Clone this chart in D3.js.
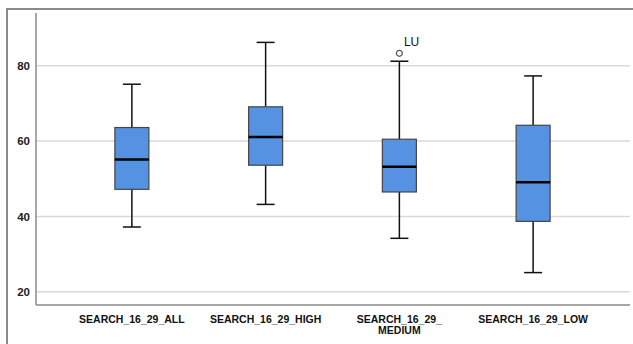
<!DOCTYPE html>
<html>
<head>
<meta charset="utf-8">
<script src="https://cdn.jsdelivr.net/npm/d3@7"></script>
<style>
  body { margin: 0; background: #fff; }
  svg { display: block; font-family: "Liberation Sans", Arial, sans-serif; }
</style>
</head>
<body>
<svg id="chart" width="633" height="344"></svg>
<script>
// variables on the x axis (second line used for wrapped labels)
const categories = ["SEARCH_16_29_ALL", "SEARCH_16_29_HIGH", "SEARCH_16_29_MEDIUM", "SEARCH_16_29_LOW"];
const labelLines = [["SEARCH_16_29_ALL"], ["SEARCH_16_29_HIGH"], ["SEARCH_16_29_", "MEDIUM"], ["SEARCH_16_29_LOW"]];

// box statistics
const whiskerLow = [37.2, 43.2, 34.2, 25.1];
const q1 = [47.2, 53.6, 46.5, 38.7];
const median = [55.1, 61.1, 53.2, 49.1];
const q3 = [63.6, 69.1, 60.5, 64.2];
const whiskerHigh = [75.1, 86.2, 81.2, 77.3];

// outliers
const outliers = [{ cat: "SEARCH_16_29_MEDIUM", value: 83.3, label: "LU" }];

const yTicks = [20, 40, 60, 80];

const svg = d3.select("#chart");

const plotLeft = 36, plotRight = 630, plotTop = 13, plotBottom = 305;

const x = d3.scaleBand()
    .domain(categories)
    .range([65, 600]);

const y = d3.scaleLinear()
    .domain([16.5, 94])
    .range([plotBottom, plotTop]);

// outer frame
svg.append("rect")
    .attr("x", 7).attr("y", 9)
    .attr("width", 640).attr("height", 350)
    .attr("fill", "none")
    .attr("stroke", "#8a8a8a")
    .attr("stroke-width", 2);

// gridlines
svg.append("g")
    .selectAll("line")
    .data(yTicks)
    .join("line")
    .attr("x1", plotLeft).attr("x2", plotRight)
    .attr("y1", d => y(d)).attr("y2", d => y(d))
    .attr("stroke", "#d9d9d9")
    .attr("stroke-width", 1.5);

// y axis
const yAxis = d3.axisLeft(y).tickValues(yTicks).tickSize(0).tickPadding(6);
const yg = svg.append("g")
    .attr("transform", `translate(${plotLeft},0)`)
    .call(yAxis);
yg.select(".domain").remove();
yg.selectAll("text")
    .attr("font-size", 11.5)
    .attr("font-weight", "bold")
    .attr("fill", "#222")
    .attr("font-family", "'Liberation Sans', Arial, sans-serif");

// axis lines
svg.append("line")
    .attr("x1", plotLeft).attr("x2", plotLeft)
    .attr("y1", plotTop).attr("y2", plotBottom)
    .attr("stroke", "#8a8a8a").attr("stroke-width", 1.5);
svg.append("line")
    .attr("x1", plotLeft).attr("x2", plotRight)
    .attr("y1", plotBottom).attr("y2", plotBottom)
    .attr("stroke", "#8a8a8a").attr("stroke-width", 1.5);

// x labels
const xl = svg.append("g")
    .selectAll("text")
    .data(categories)
    .join("text")
    .attr("x", d => x(d) + x.bandwidth() / 2)
    .attr("y", 323)
    .attr("text-anchor", "middle")
    .attr("font-size", 10.5)
    .attr("font-weight", "bold")
    .attr("fill", "#111");
xl.selectAll("tspan")
    .data((d, i) => labelLines[i])
    .join("tspan")
    .attr("x", function () { return d3.select(this.parentNode).attr("x"); })
    .attr("dy", (d, i) => i === 0 ? 0 : 10.5)
    .text(d => d);

// boxes
const boxW = 34, capW = 18;
const boxes = svg.append("g")
    .selectAll("g")
    .data(categories)
    .join("g")
    .attr("transform", d => `translate(${x(d) + x.bandwidth() / 2},0)`);

boxes.append("line")
    .attr("x1", 0).attr("x2", 0)
    .attr("y1", (d, i) => y(whiskerHigh[i]))
    .attr("y2", (d, i) => y(q3[i]))
    .attr("stroke", "#111").attr("stroke-width", 1.5);
boxes.append("line")
    .attr("x1", 0).attr("x2", 0)
    .attr("y1", (d, i) => y(q1[i]))
    .attr("y2", (d, i) => y(whiskerLow[i]))
    .attr("stroke", "#111").attr("stroke-width", 1.5);
boxes.append("line")
    .attr("x1", -capW / 2).attr("x2", capW / 2)
    .attr("y1", (d, i) => y(whiskerHigh[i]))
    .attr("y2", (d, i) => y(whiskerHigh[i]))
    .attr("stroke", "#111").attr("stroke-width", 1.5);
boxes.append("line")
    .attr("x1", -capW / 2).attr("x2", capW / 2)
    .attr("y1", (d, i) => y(whiskerLow[i]))
    .attr("y2", (d, i) => y(whiskerLow[i]))
    .attr("stroke", "#111").attr("stroke-width", 1.5);
boxes.append("rect")
    .attr("x", -boxW / 2)
    .attr("width", boxW)
    .attr("y", (d, i) => y(q3[i]))
    .attr("height", (d, i) => y(q1[i]) - y(q3[i]))
    .attr("fill", "#5592e2")
    .attr("stroke", "#454545")
    .attr("stroke-width", 1.2);
boxes.append("line")
    .attr("x1", -boxW / 2).attr("x2", boxW / 2)
    .attr("y1", (d, i) => y(median[i]))
    .attr("y2", (d, i) => y(median[i]))
    .attr("stroke", "#000").attr("stroke-width", 2.5);

// outliers
const out = svg.append("g")
    .selectAll("g")
    .data(outliers)
    .join("g")
    .attr("transform", d => `translate(${x(d.cat) + x.bandwidth() / 2},${y(d.value)})`);
out.append("circle")
    .attr("r", 3)
    .attr("fill", "#fff")
    .attr("stroke", "#555")
    .attr("stroke-width", 1.2);
out.append("text")
    .attr("x", 4.5)
    .attr("y", -7)
    .attr("font-size", 12)
    .attr("fill", "#111")
    .text(d => d.label);
</script>
</body>
</html>
